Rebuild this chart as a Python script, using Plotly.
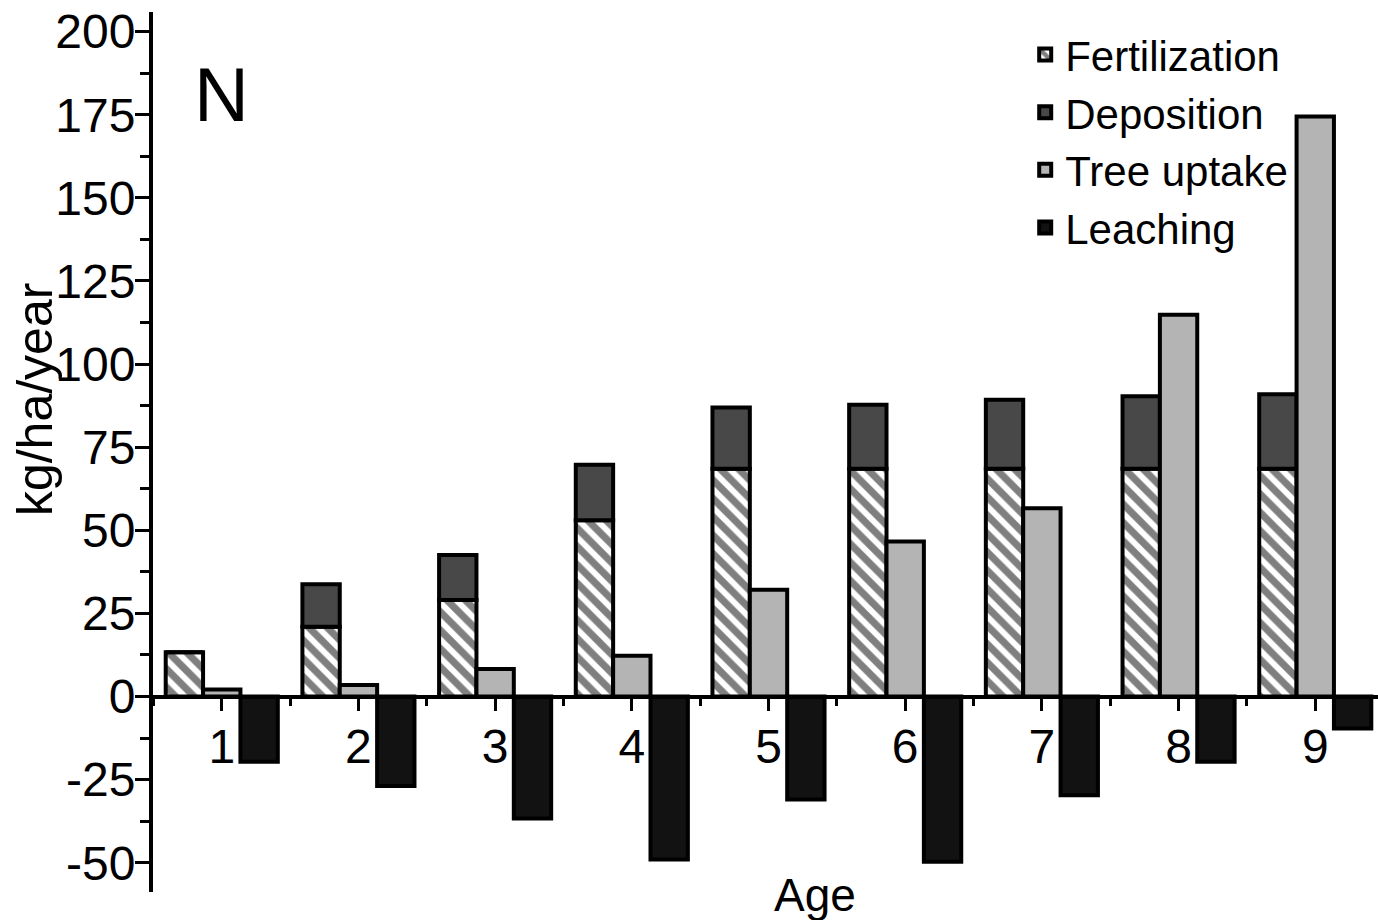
import plotly.graph_objects as go

# ---- data ----
ages = [1, 2, 3, 4, 5, 6, 7, 8, 9]
fertilization = [13.3, 21.0, 29.0, 53.0, 68.5, 68.5, 68.5, 68.5, 68.5]
deposition = [0.0, 12.8, 13.6, 16.7, 18.4, 19.3, 20.8, 21.8, 22.4]
tree_uptake = [2.1, 3.5, 8.3, 12.3, 32.1, 46.6, 56.6, 114.8, 174.5]
leaching = [-19.6, -26.9, -36.7, -49.0, -31.0, -49.7, -29.7, -19.6, -9.6]
series_names = ["Fertilization", "Deposition", "Tree uptake", "Leaching"]
y_tick_values = [-50, -25, 0, 25, 50, 75, 100, 125, 150, 175, 200]
y_tick_text = [str(v) for v in y_tick_values]

# ---- styling ----
FONT = "Liberation Sans, Arial, sans-serif"
Y_RANGE = [-58.8, 205.9]
X_RANGE = [0.497, 9.459]
OUTLINE = dict(color="black", width=4)

fig = go.Figure()
fig.add_trace(go.Bar(
    x=ages, y=fertilization, name=series_names[0], offsetgroup="a",
    marker=dict(color="white",
                pattern=dict(shape="\\", fgcolor="black", bgcolor="white",
                             size=13, solidity=0.55),
                line=OUTLINE),
))
fig.add_trace(go.Bar(
    x=ages, y=deposition, base=fertilization, name=series_names[1], offsetgroup="a",
    marker=dict(color="#484848", line=OUTLINE),
))
fig.add_trace(go.Bar(
    x=ages, y=tree_uptake, name=series_names[2], offsetgroup="b",
    marker=dict(color="#b4b4b4", line=OUTLINE),
))
fig.add_trace(go.Bar(
    x=ages, y=leaching, name=series_names[3], offsetgroup="c",
    marker=dict(color="#121212", line=OUTLINE),
))

zero_pos = (0 - Y_RANGE[0]) / (Y_RANGE[1] - Y_RANGE[0])

fig.update_layout(
    width=1378, height=920,
    margin=dict(l=153, r=0, t=12, b=28),
    paper_bgcolor="white", plot_bgcolor="white",
    barmode="group", bargap=0.18, bargroupgap=0.0,
    font=dict(family=FONT, color="black"),
    hovermode=False,
    showlegend=True,
    legend=dict(
        x=0.712, y=0.99, xanchor="left", yanchor="top",
        font=dict(family=FONT, size=42, color="black"),
        bgcolor="rgba(0,0,0,0)", traceorder="normal",
        itemwidth=30,
    ),
    xaxis=dict(
        range=X_RANGE, anchor="free", position=zero_pos,
        tick0=1, dtick=1,
        showline=True, linecolor="black", linewidth=4,
        ticks="outside", ticklen=12, tickwidth=3, tickcolor="black",
        ticklabelstandoff=-5,
        minor=dict(dtick=0.5, tick0=0.5, ticks="outside", ticklen=7,
                   tickwidth=3, tickcolor="black"),
        showgrid=False, zeroline=False,
        tickfont=dict(family=FONT, size=48, color="black"),
    ),
    yaxis=dict(
        range=Y_RANGE, tickmode="array", tickvals=y_tick_values, ticktext=y_tick_text,
        showline=True, linecolor="black", linewidth=4,
        ticks="outside", ticklen=14, tickwidth=3, tickcolor="black",
        ticklabelstandoff=-10,
        minor=dict(dtick=12.5, tick0=0, ticks="outside", ticklen=9,
                   tickwidth=3, tickcolor="black"),
        showgrid=False, zeroline=False,
        tickfont=dict(family=FONT, size=48, color="black"),
    ),
    annotations=[
        dict(text="N", xref="paper", yref="paper", x=0.0563, y=0.906,
             xanchor="center", yanchor="middle", showarrow=False,
             font=dict(family=FONT, size=76, color="black")),
        dict(text="kg/ha/year", xref="paper", yref="paper", x=-0.0963, y=0.559,
             xanchor="center", yanchor="middle", showarrow=False, textangle=-90,
             font=dict(family=FONT, size=50, color="black")),
        dict(text="Age", xref="paper", yref="paper", x=0.54, y=-0.003,
             xanchor="center", yanchor="middle", showarrow=False,
             font=dict(family=FONT, size=46, color="black")),
    ],
)

fig.write_html("out.html")
